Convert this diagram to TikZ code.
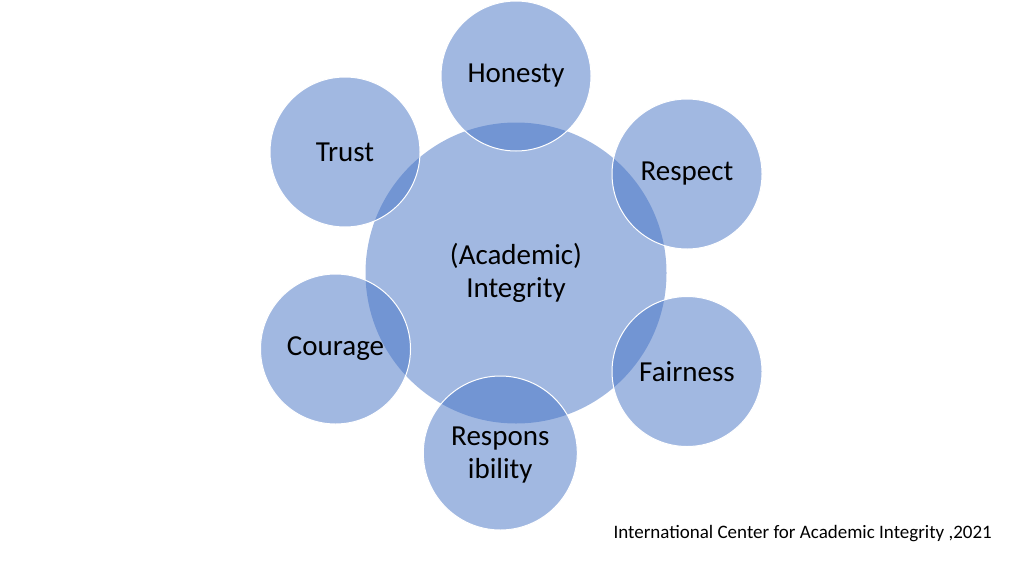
\documentclass[tikz,border=0pt]{standalone}
\usepackage{fontspec}
\setmainfont{Carlito}
\definecolor{bubbleblue}{RGB}{68,114,196}
\begin{document}
\begin{tikzpicture}[x=1pt, y=-1pt,
    bubble/.style={circle, fill=bubbleblue, fill opacity=0.5, text opacity=1,
      draw=white, line width=1pt, inner sep=0pt, minimum size=150pt,
      align=center, font=\fontsize{29}{33}\selectfont},
    hub/.style={bubble, draw=none, minimum size=301pt}]
                \useasboundingbox (0,0) rectangle (1024,576);
                \node[hub] (integrity) at (516,273) {(Academic)\\Integrity};
                \node[bubble] (honesty) at (516,76) {Honesty};
                \node[bubble] (trust) at (345,152) {Trust};
                \node[bubble] (respect) at (687,174) {Respect};
                \node[bubble] (courage) at (335.5,349) {Courage};
                \node[bubble] (fairness) at (687,371.5) {Fairness};
                \node[bubble, minimum size=154pt] (responsibility) at (500.3,453) {};
                \node[align=center, font=\fontsize{29}{33}\selectfont] (responsibilitytext) at (500.3,455) {Respons\\ibility};
                \node[anchor=base west, font=\fontsize{19}{23}\selectfont] (source) at (610,538) {International Center for Academic Integrity ,2021};
            \end{tikzpicture}
\end{document}
